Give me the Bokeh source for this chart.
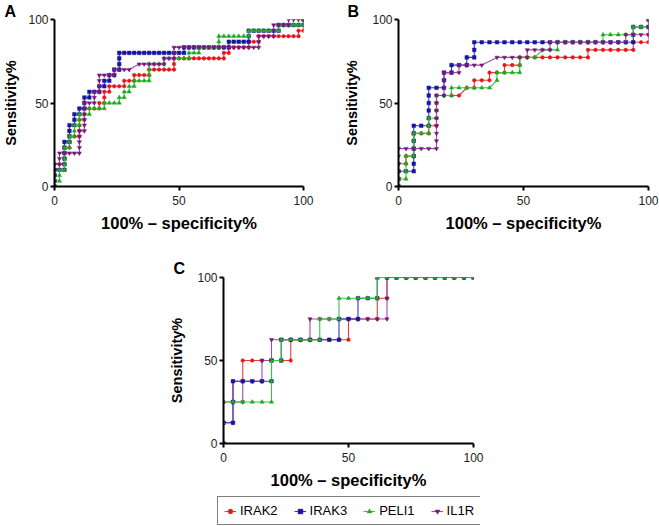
from bokeh.plotting import figure
from bokeh.models import Range1d, FixedTicker, Legend, LegendItem, ColumnDataSource
from bokeh.layouts import row, column
from bokeh.embed import file_html
from bokeh.resources import INLINE

FONT = "Liberation Sans"
NAMES = ["IRAK2", "IRAK3", "PELI1", "IL1R"]
X_TITLE = "100% \u2013 specificity%"
Y_TITLE = "Sensitivity%"
TICKS = [0, 50, 100]

# ---------------- Panel A (100% - specificity%, sensitivity%) ----------------
A_IRAK2 = [(0,0),(0,3.3),(0,6.7),(0,10),(0,13.3),(2,13.3),(4,13.3),(4,16.7),(4,20),(4,23.3),(6,23.3),(6,26.7),(6,30),(8,30),(10,30),(10,33.3),(10,36.7),(10,40),(12,40),(12,43.3),(12,46.7),(14,46.7),(16,46.7),(18,46.7),(18,50),(20,50),(20,53.3),(20,56.7),(22,56.7),(22,60),(24,60),(26,60),(28,60),(28,63.3),(30,63.3),(32,63.3),(32,66.7),(34,66.7),(36,66.7),(38,66.7),(38,70),(40,70),(42,70),(44,70),(46,70),(48,70),(48,73.3),(48,76.7),(50,76.7),(52,76.7),(54,76.7),(56,76.7),(58,76.7),(60,76.7),(62,76.7),(64,76.7),(66,76.7),(68,76.7),(68,80),(70,80),(70,83.3),(72,83.3),(74,83.3),(76,83.3),(78,83.3),(78,86.7),(80,86.7),(82,86.7),(82,90),(84,90),(86,90),(88,90),(90,90),(92,90),(94,90),(96,90),(98,90),(98,93.3),(100,93.3),(100,100)]
A_IRAK3 = [(0,0),(0,3.3),(0,6.7),(0,10),(2,10),(4,10),(4,13.3),(4,16.7),(4,20),(4,23.3),(4,26.7),(6,26.7),(6,30),(6,33.3),(6,36.7),(8,36.7),(8,40),(8,43.3),(10,43.3),(10,46.7),(12,46.7),(12,50),(12,53.3),(14,53.3),(14,56.7),(16,56.7),(18,56.7),(18,60),(20,60),(20,63.3),(22,63.3),(22,66.7),(24,66.7),(24,70),(26,70),(26,73.3),(26,76.7),(26,80),(28,80),(30,80),(32,80),(34,80),(36,80),(38,80),(40,80),(42,80),(44,80),(46,80),(48,80),(50,80),(52,80),(52,83.3),(54,83.3),(56,83.3),(58,83.3),(60,83.3),(62,83.3),(64,83.3),(66,83.3),(68,83.3),(70,83.3),(70,86.7),(72,86.7),(74,86.7),(76,86.7),(78,86.7),(78,90),(78,93.3),(80,93.3),(82,93.3),(84,93.3),(86,93.3),(88,93.3),(90,93.3),(90,96.7),(92,96.7),(94,96.7),(96,96.7),(98,96.7),(100,96.7),(100,100)]
A_PELI1 = [(0,0),(0,3.3),(2,3.3),(2,6.7),(2,10),(4,10),(4,13.3),(4,16.7),(4,20),(4,23.3),(6,23.3),(6,26.7),(6,30),(8,30),(8,33.3),(8,36.7),(10,36.7),(10,40),(10,43.3),(12,43.3),(14,43.3),(14,46.7),(16,46.7),(18,46.7),(20,46.7),(20,50),(22,50),(24,50),(26,50),(26,53.3),(28,53.3),(28,56.7),(30,56.7),(30,60),(32,60),(32,63.3),(34,63.3),(36,63.3),(38,63.3),(38,66.7),(38,70),(38,73.3),(40,73.3),(42,73.3),(44,73.3),(44,76.7),(46,76.7),(48,76.7),(50,76.7),(52,76.7),(54,76.7),(54,80),(56,80),(58,80),(58,83.3),(60,83.3),(62,83.3),(64,83.3),(66,83.3),(66,86.7),(66,90),(68,90),(70,90),(72,90),(74,90),(76,90),(78,90),(78,93.3),(80,93.3),(82,93.3),(84,93.3),(86,93.3),(88,93.3),(90,93.3),(90,96.7),(92,96.7),(94,96.7),(96,96.7),(98,96.7),(100,96.7),(100,100)]
A_IL1R = [(0,0),(0,3.3),(0,6.7),(0,10),(0,13.3),(2,13.3),(2,16.7),(2,20),(4,20),(6,20),(8,20),(10,20),(10,23.3),(10,26.7),(10,30),(10,33.3),(12,33.3),(12,36.7),(12,40),(12,43.3),(12,46.7),(12,50),(14,50),(16,50),(16,53.3),(16,56.7),(18,56.7),(18,60),(18,63.3),(18,66.7),(20,66.7),(22,66.7),(24,66.7),(24,70),(26,70),(28,70),(30,70),(34,73.3),(36,73.3),(38,73.3),(40,73.3),(42,73.3),(44,73.3),(44,76.7),(46,76.7),(48,76.7),(48,80),(48,83.3),(50,83.3),(52,83.3),(54,83.3),(56,83.3),(58,83.3),(60,83.3),(62,83.3),(64,83.3),(66,83.3),(68,83.3),(70,83.3),(72,83.3),(74,83.3),(76,83.3),(78,83.3),(80,83.3),(82,83.3),(82,86.7),(82,90),(84,90),(86,90),(88,90),(88,93.3),(88,96.7),(90,96.7),(92,96.7),(94,96.7),(94,100),(96,100),(98,100),(100,100)]

# ---------------- Panel B ----------------
B_IRAK2 = [(0,0),(0,4.5),(0,9.1),(0,13.6),(3,13.6),(3,18.2),(6.1,18.2),(6.1,22.7),(6.1,27.3),(6.1,31.8),(9.1,31.8),(12.1,31.8),(12.1,36.4),(15.2,36.4),(15.2,40.9),(15.2,45.5),(15.2,50),(15.2,54.5),(18.2,54.5),(21.2,54.5),(24.2,54.5),(27.3,59.1),(30.3,59.1),(30.3,63.6),(33.3,63.6),(36.4,63.6),(36.4,68.2),(39.4,68.2),(42.4,68.2),(42.4,72.7),(45.5,72.7),(48.5,72.7),(48.5,77.3),(51.5,77.3),(54.5,77.3),(57.6,77.3),(60.6,77.3),(63.6,77.3),(66.7,77.3),(69.7,77.3),(72.7,77.3),(75.8,77.3),(75.8,81.8),(78.8,81.8),(81.8,81.8),(84.8,81.8),(87.9,81.8),(90.9,81.8),(93.9,81.8),(93.9,86.4),(97,86.4),(100,86.4),(100,90.9),(100,95.5),(100,100)]
B_IRAK3 = [(0,0),(0,4.5),(0,9.1),(3,9.1),(6.1,9.1),(6.1,13.6),(6.1,18.2),(6.1,22.7),(6.1,27.3),(6.1,31.8),(6.1,36.4),(9.1,36.4),(12.1,36.4),(12.1,40.9),(12.1,45.5),(12.1,50),(12.1,54.5),(12.1,59.1),(15.2,59.1),(18.2,59.1),(18.2,63.6),(18.2,68.2),(21.2,68.2),(21.2,72.7),(24.2,72.7),(27.3,72.7),(27.3,77.3),(30.3,77.3),(30.3,81.8),(30.3,86.4),(33.3,86.4),(36.4,86.4),(39.4,86.4),(42.4,86.4),(45.5,86.4),(48.5,86.4),(51.5,86.4),(54.5,86.4),(57.6,86.4),(60.6,86.4),(63.6,86.4),(66.7,86.4),(69.7,86.4),(72.7,86.4),(75.8,86.4),(78.8,86.4),(81.8,86.4),(84.8,86.4),(87.9,86.4),(90.9,86.4),(93.9,86.4),(93.9,90.9),(93.9,95.5),(97,95.5),(100,95.5),(100,100)]
B_PELI1 = [(0,0),(0,4.5),(3,4.5),(3,9.1),(3,13.6),(3,18.2),(6.1,18.2),(6.1,22.7),(6.1,27.3),(6.1,31.8),(9.1,31.8),(12.1,31.8),(12.1,36.4),(12.1,40.9),(15.2,40.9),(15.2,45.5),(15.2,50),(15.2,54.5),(18.2,54.5),(21.2,54.5),(21.2,59.1),(24.2,59.1),(27.3,59.1),(30.3,59.1),(33.3,59.1),(36.4,59.1),(39.4,63.6),(39.4,68.2),(42.4,68.2),(45.5,68.2),(48.5,68.2),(48.5,72.7),(48.5,77.3),(51.5,77.3),(54.5,77.3),(57.6,81.8),(60.6,81.8),(63.6,81.8),(63.6,86.4),(66.7,86.4),(69.7,86.4),(72.7,86.4),(75.8,86.4),(78.8,86.4),(81.8,86.4),(81.8,90.9),(84.8,90.9),(87.9,90.9),(90.9,90.9),(93.9,90.9),(93.9,95.5),(97,95.5),(100,95.5),(100,100)]
B_IL1R = [(0,0),(0,4.5),(0,9.1),(0,13.6),(0,18.2),(0,22.7),(3,22.7),(6.1,22.7),(9.1,22.7),(12.1,22.7),(15.2,22.7),(15.2,27.3),(15.2,31.8),(15.2,36.4),(15.2,40.9),(15.2,45.5),(15.2,50),(15.2,54.5),(18.2,54.5),(18.2,59.1),(18.2,63.6),(18.2,68.2),(21.2,68.2),(24.2,68.2),(24.2,72.7),(27.3,72.7),(30.3,72.7),(33.3,72.7),(39.4,77.3),(42.4,77.3),(45.5,77.3),(48.5,77.3),(51.5,77.3),(51.5,81.8),(54.5,81.8),(57.6,81.8),(60.6,81.8),(60.6,86.4),(63.6,86.4),(66.7,86.4),(69.7,86.4),(72.7,86.4),(75.8,86.4),(78.8,86.4),(81.8,86.4),(84.8,86.4),(87.9,86.4),(90.9,86.4),(90.9,90.9),(93.9,90.9),(97,90.9),(100,90.9),(100,95.5),(100,100)]

# ---------------- Panel C ----------------
C_IRAK2 = [(0,0),(0,12.5),(0,25),(3.8,25),(3.8,37.5),(7.7,37.5),(7.7,50),(11.5,50),(15.4,50),(19.2,50),(23.1,50),(26.9,50),(26.9,62.5),(30.8,62.5),(34.6,62.5),(38.5,62.5),(42.3,62.5),(46.2,62.5),(50,62.5),(50,75),(53.8,75),(57.7,75),(61.5,75),(61.5,87.5),(65.4,87.5),(65.4,100),(69.2,100),(73.1,100),(76.9,100),(80.8,100),(84.6,100),(88.5,100),(92.3,100),(96.2,100),(100,100)]
C_IRAK3 = [(0,0),(0,12.5),(3.8,12.5),(3.8,25),(3.8,37.5),(7.7,37.5),(11.5,37.5),(15.4,37.5),(19.2,37.5),(19.2,50),(23.1,50),(23.1,62.5),(26.9,62.5),(30.8,62.5),(34.6,62.5),(38.5,62.5),(42.3,62.5),(46.2,62.5),(46.2,75),(50,75),(53.8,75),(53.8,87.5),(57.7,87.5),(61.5,87.5),(61.5,100),(65.4,100),(69.2,100),(73.1,100),(76.9,100),(80.8,100),(84.6,100),(88.5,100),(92.3,100),(96.2,100),(100,100)]
C_PELI1 = [(0,0),(0,12.5),(0,25),(3.8,25),(7.7,25),(11.5,25),(15.4,25),(19.2,25),(19.2,37.5),(19.2,50),(23.1,50),(23.1,62.5),(26.9,62.5),(30.8,62.5),(34.6,62.5),(38.5,62.5),(38.5,75),(42.3,75),(46.2,75),(46.2,87.5),(50,87.5),(53.8,87.5),(57.7,87.5),(61.5,87.5),(61.5,100),(65.4,100),(69.2,100),(73.1,100),(76.9,100),(80.8,100),(84.6,100),(88.5,100),(92.3,100),(96.2,100),(100,100)]
C_IL1R = [(0,0),(0,12.5),(3.8,12.5),(3.8,25),(7.7,25),(7.7,37.5),(11.5,37.5),(15.4,37.5),(15.4,50),(19.2,50),(19.2,62.5),(23.1,62.5),(26.9,62.5),(30.8,62.5),(34.6,62.5),(34.6,75),(38.5,75),(42.3,75),(46.2,75),(50,75),(53.8,75),(57.7,75),(61.5,75),(65.4,75),(65.4,87.5),(65.4,100),(69.2,100),(73.1,100),(76.9,100),(80.8,100),(84.6,100),(88.5,100),(92.3,100),(96.2,100),(100,100)]

STYLE = {
    "IRAK2": dict(marker="circle", color="#e8141a", line="#f03a3a", size=3.6),
    "IRAK3": dict(marker="square", color="#17179e", line="#3535c8", size=3.6),
    "PELI1": dict(marker="triangle", color="#1fa81f", line="#3ac63a", size=4.2),
    "IL1R": dict(marker="inverted_triangle", color="#74177a", line="#a24aa8", size=4.2),
}


def style_axes(p, y_label_standoff):
    for ax in (p.xaxis[0], p.yaxis[0]):
        ax.ticker = FixedTicker(ticks=TICKS)
        ax.axis_line_width = 2
        ax.axis_line_color = "black"
        ax.major_tick_line_width = 2
        ax.major_tick_line_color = "black"
        ax.major_tick_out = 4
        ax.major_tick_in = 0
        ax.minor_tick_line_color = None
        ax.major_label_text_font = FONT
        ax.major_label_text_font_size = "12px"
        ax.major_label_text_color = "#222222"
        ax.axis_label_text_font = FONT
        ax.axis_label_text_font_style = "bold"
        ax.axis_label_text_color = "black"
    p.xaxis.axis_label = X_TITLE
    p.yaxis.axis_label = Y_TITLE
    p.xaxis.axis_label_text_font_size = "16.5px"
    p.yaxis.axis_label_text_font_size = "14.5px"
    p.xaxis.major_label_standoff = 5
    p.xaxis.axis_label_standoff = 6
    p.yaxis.major_label_standoff = 2
    p.yaxis.axis_label_standoff = y_label_standoff


def draw_series(p, series, order, scale=1.0):
    rends = {}
    for name in order:
        pts = series[name]
        st = STYLE[name]
        src = ColumnDataSource(dict(x=[a for a, b in pts], y=[b for a, b in pts]))
        lr = p.line("x", "y", source=src, line_color=st["line"], line_width=1.1)
        sr = p.scatter("x", "y", source=src, marker=st["marker"], size=st["size"] * scale,
                       fill_color=st["color"], line_color=st["color"], line_width=0.5)
        rends[name] = (lr, sr)
    return rends


def panel(series, order, letter, width, height, mbl, mbr, mbt, mbb, letter_offset,
          letter_standoff, y_label_standoff):
    p = figure(width=width, height=height, x_range=Range1d(0, 100), y_range=Range1d(0, 100),
               output_backend="svg", toolbar_location=None, title=letter,
               min_border_left=mbl, min_border_right=mbr, min_border_top=mbt, min_border_bottom=mbb)
    p.title.align = "left"
    p.title.offset = letter_offset
    p.title.standoff = letter_standoff
    p.title.text_font = FONT
    p.title.text_font_size = "16px"
    p.title.text_font_style = "bold"
    p.title.text_color = "black"
    p.outline_line_color = None
    p.grid.visible = False
    p.background_fill_color = "white"
    p.border_fill_color = "white"
    style_axes(p, y_label_standoff)
    return p, draw_series(p, series, order)


pA, _ = panel(dict(IRAK2=A_IRAK2, IRAK3=A_IRAK3, PELI1=A_PELI1, IL1R=A_IL1R),
              ["IRAK2", "IRAK3", "PELI1", "IL1R"], "A", 330, 236, 52, 27, 19, 50, -50, 0, 6)
pB, _ = panel(dict(IRAK2=B_IRAK2, IRAK3=B_IRAK3, PELI1=B_PELI1, IL1R=B_IL1R),
              ["IRAK2", "IRAK3", "PELI1", "IL1R"], "B", 329, 236, 68, 11, 19, 50, -51, 0, 9)
C_SERIES = dict(IRAK2=C_IRAK2, IRAK3=C_IRAK3, PELI1=C_PELI1, IL1R=C_IL1R)
pC, rC = panel(C_SERIES, ["IRAK2", "IL1R", "IRAK3", "PELI1"], "C", 659, 260, 223, 186, 41, 53,
               -50, 2, 9)

# legend strip: its own small figure; its renderers carry panel C's series,
# kept outside the strip's visible y-range so only the legend shows
pL = figure(width=659, height=30, x_range=Range1d(0, 100), y_range=Range1d(-300, -200),
            output_backend="svg", toolbar_location=None,
            x_axis_location=None, y_axis_location=None,
            min_border_left=217, min_border_right=179, min_border_top=0, min_border_bottom=0)
pL.outline_line_color = None
pL.grid.visible = False
rL = draw_series(pL, C_SERIES, NAMES, scale=0.8)
items = [LegendItem(label=n, renderers=list(rL[n])) for n in NAMES]
legend = Legend(items=items, orientation="horizontal", location=(0, 1),
                border_line_color="black", border_line_width=1,
                background_fill_color="white", background_fill_alpha=1,
                padding=6, spacing=16, glyph_width=12, glyph_height=12,
                label_standoff=4, label_height=14, label_text_font=FONT,
                label_text_font_size="13px", label_text_color="black", margin=0)
pL.add_layout(legend)

layout = column(row(pA, pB), pC, row(pL))

open("out.html", "w").write(file_html(layout, INLINE))
